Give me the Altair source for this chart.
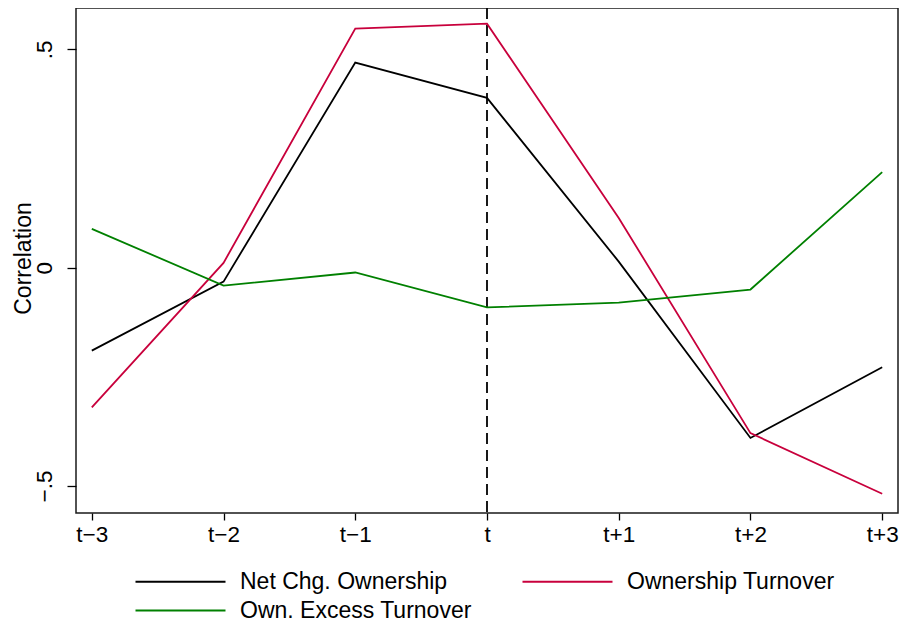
import json

import altair as alt
import pandas as pd

# event time relative to t
periods = [-3, -2, -1, 0, 1, 2, 3]
period_labels = ["t\u22123", "t\u22122", "t\u22121", "t", "t+1", "t+2", "t+3"]

net_chg_ownership = [-0.19, -0.032, 0.470, 0.389, 0.014, -0.390, -0.228]
ownership_turnover = [-0.320, 0.011, 0.548, 0.559, 0.114, -0.379, -0.518]
own_excess_turnover = [0.089, -0.041, -0.011, -0.091, -0.080, -0.050, 0.219]

series_names = ["Net Chg. Ownership", "Ownership Turnover", "Own. Excess Turnover"]
series_colors = ["#000000", "#C8003C", "#008000"]

y_ticks = [-0.5, 0, 0.5]
y_tick_labels = ["\u2212.5", "0", ".5"]
event_line = [0]

FONT = "Liberation Sans"

rows = []
for name, values in zip(
    series_names, [net_chg_ownership, ownership_turnover, own_excess_turnover]
):
    for p, v in zip(periods, values):
        rows.append({"period": p, "corr": v, "series": name})
df = pd.DataFrame(rows)

x_scale = alt.Scale(domain=[-3.12, 3.12], nice=False, zero=False)
y_scale = alt.Scale(domain=[-0.562, 0.595], nice=False, zero=False)

x_label_expr = f"{json.dumps(period_labels)}[datum.value + 3]"
y_label_expr = f"{json.dumps(y_tick_labels)}[round(datum.value * 2) + 1]"

lines = (
    alt.Chart(df)
    .mark_line(strokeWidth=1.8)
    .encode(
        x=alt.X(
            "period:Q",
            scale=x_scale,
            axis=alt.Axis(
                values=periods,
                labelExpr=x_label_expr,
                title=None,
                grid=False,
                domain=False,
                tickSize=7,
                tickWidth=1.3,
                tickColor="#000000",
                labelPadding=3,
                labelFontSize=22.5,
                labelFont=FONT,
                labelColor="#000000",
            ),
        ),
        y=alt.Y(
            "corr:Q",
            scale=y_scale,
            axis=alt.Axis(
                values=y_ticks,
                labelExpr=y_label_expr,
                title="Correlation",
                titleFont=FONT,
                titleFontSize=23,
                titleFontWeight="normal",
                titleColor="#000000",
                titleAngle=270,
                titleBaseline="alphabetic",
                titleX=-46,
                titleY=250,
                grid=False,
                domain=False,
                tickSize=9,
                tickWidth=1.3,
                tickColor="#000000",
                labelAngle=270,
                labelAlign="center",
                labelBaseline="bottom",
                labelPadding=11,
                labelFontSize=22.5,
                labelFont=FONT,
                labelColor="#000000",
            ),
        ),
        color=alt.Color(
            "series:N",
            scale=alt.Scale(domain=series_names, range=series_colors),
            sort=series_names,
            legend=alt.Legend(
                title=None,
                orient="none",
                legendX=93,
                legendY=562,
                direction="horizontal",
                columns=2,
                symbolType="M-5,0H5",
                symbolSize=324,
                symbolStrokeWidth=2,
                symbolFillColor="transparent",
                labelFont=FONT,
                labelFontSize=23,
                labelColor="#000000",
                labelOffset=48,
                labelLimit=400,
                columnPadding=46,
                rowPadding=5,
            ),
        ),
    )
)

vline = (
    alt.Chart(pd.DataFrame({"period": event_line}))
    .mark_rule(color="#000000", strokeWidth=1.8, strokeDash=[11, 6])
    .encode(x=alt.X("period:Q", scale=x_scale))
)

chart = (
    alt.layer(vline, lines)
    .properties(
        width=822,
        height=505,
        autosize=alt.AutoSizeParams(type="none"),
        padding={"left": 68, "top": 0, "right": 8, "bottom": 114},
        background="#FFFFFF",
    )
    .configure_view(stroke="#1a1a1a", strokeWidth=1.5)
)

chart.save("out.html", embed_options={"renderer": "svg", "actions": False})
